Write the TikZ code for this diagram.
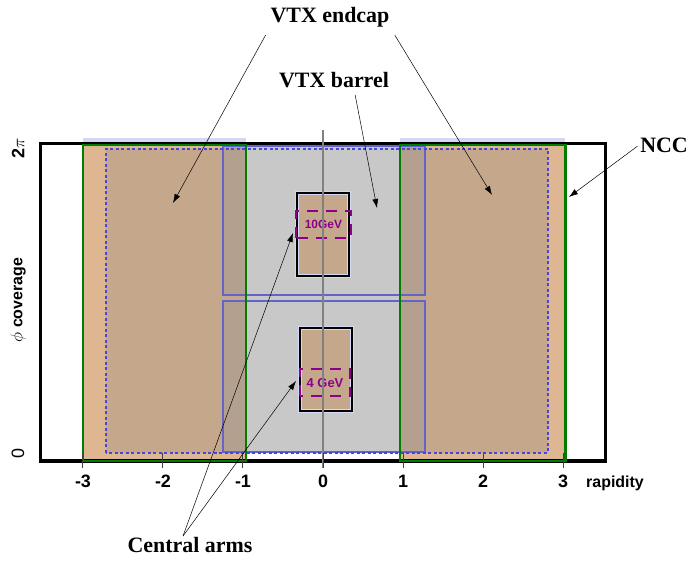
\documentclass[tikz,border=0pt]{standalone}
\usepackage{fontspec}
\setmainfont{Liberation Serif}
\setsansfont{Liberation Sans}
\usetikzlibrary{arrows.meta,positioning}
\definecolor{nccorange}{RGB}{222,182,145}
\definecolor{capbrown}{RGB}{197,168,140}
\definecolor{overlapbrown}{RGB}{180,160,143}
\definecolor{barrelgray}{RGB}{200,200,200}
\definecolor{bandblue}{RGB}{212,216,244}
\definecolor{vtxblue}{RGB}{100,100,200}
\definecolor{dashblue}{RGB}{70,70,220}
\definecolor{nccgreen}{RGB}{0,125,0}
\definecolor{trigmag}{RGB}{140,0,140}

\begin{document}
\begin{tikzpicture}[x=80bp, y=80bp, >={Latex[length=9bp,width=6bp]},
    every node/.style={font=\sffamily\bfseries\fontsize{16}{18}\selectfont, inner sep=1pt},
    bigtext/.style={font=\rmfamily\bfseries\fontsize{22}{26}\selectfont},
    trigbox/.style={trigmag, line width=2.5bp, dash pattern=on 11bp off 8bp},
    ptr/.style={->, black, line width=0.5bp}]
    \useasboundingbox (-4.0375,-1.25) rectangle (4.575,5.7625);
    \coordinate (F1) at (-3.525,0);
    \coordinate (F2) at (3.525,3.9625);
    \coordinate (E1) at (-2.71,0.10);
    \coordinate (E2) at (2.81,3.90);
    \coordinate (BL1) at (-1.25,0.11);
    \coordinate (BL2) at (1.27,2.00);
    \coordinate (BU1) at (-1.25,2.075);
    \coordinate (BU2) at (1.27,3.94);
    \coordinate (AU1) at (-0.325,2.3125);
    \coordinate (AU2) at (0.325,3.35);
    \coordinate (AL1) at (-0.29,0.625);
    \coordinate (AL2) at (0.36,1.6625);
    \foreach \a/\b in {-3.0/-0.96,0.96/3.03} \fill[bandblue] (\a,3.93) rectangle (\b,4.035);
    \foreach \a/\b in {-3.0/-0.96,0.96/3.03} \fill[nccorange] (\a,0) rectangle (\b,3.95);
    \fill[capbrown] (E1) rectangle (E2);
    \fill[overlapbrown] (BL1) rectangle (BL2);
    \fill[overlapbrown] (BU1) rectangle (BU2);
    \fill[barrelgray] (-0.96,0.10) rectangle (0.96,3.96);
    \draw[vtxblue, line width=2bp] (BL1) rectangle (BL2);
    \draw[vtxblue, line width=2bp] (BU1) rectangle (BU2);
    \draw[dashblue, line width=1.8bp, dash pattern=on 3bp off 2.5bp] (E1) rectangle (E2);
    \draw[black, line width=3bp] (F1) rectangle (F2);
    \foreach \a/\b in {-3.0/-0.96,0.96/3.03} \draw[nccgreen, line width=2.5bp] (\a,0) rectangle (\b,3.95);
    \foreach \p/\q in {AU1/AU2,AL1/AL2} {
        \fill[capbrown] (\p) rectangle (\q);
        \draw[bandblue, line width=4bp] (\p) rectangle (\q);
        \draw[black, line width=2bp] (\p) rectangle (\q);
    }
    \draw[trigbox] (-0.34,2.7875) rectangle (0.35,3.125);
    \draw[trigbox] (-0.29,0.8125) rectangle (0.34,1.15);
    \node[trigmag, font=\sffamily\bfseries\fontsize{12}{14}\selectfont] (hi) at (0.005,2.956) {10GeV};
    \node[trigmag, font=\sffamily\bfseries\fontsize{13}{15}\selectfont] (lo) at (0.025,0.98) {4 GeV};
    \coordinate (Ztop) at (0,4.1375);
    \coordinate (Zbot) at (0,-0.0875);
    \draw[gray, line width=1.2bp] (Ztop) -- (Zbot);
    \foreach \x in {-3,...,3} {
        \draw[darkgray, line width=1bp] (\x,0.1) -- (\x,-0.0875);
        \node[anchor=base, font=\sffamily\bfseries\fontsize{18}{20}\selectfont] at (\x,-0.33) {\x};
    }
    \node[anchor=base west] (rap) at (3.275,-0.325) {rapidity};
    \node[rotate=90, font=\sffamily\bfseries\fontsize{18}{20}\selectfont] (twopi) at (-3.8125,3.91) {2$\pi$};
    \node[rotate=90, font=\sffamily\fontsize{18}{20}\selectfont] (zero) at (-3.8125,0.0875) {0};
    \node[rotate=90] (phi) at (-3.8125,2.01) {$\phi$ coverage};
    \node[bigtext] (endcap) at (0.0875,5.55) {VTX endcap};
    \node[bigtext] (barrel) at (0.1375,4.7625) {VTX barrel};
    \node[bigtext] (ncc) at (4.2625,3.95) {NCC};
    \node[bigtext] (arms) at (-1.6625,-1.05) {Central arms};
    \coordinate (capLtip) at (-1.875,3.225);
    \coordinate (capRtip) at (2.1125,3.325);
    \coordinate (barreltip) at (0.675,3.1625);
    \coordinate (ncctip) at (3.075,3.30);
    \coordinate (armsUp) at (-0.375,2.85);
    \coordinate (armsLow) at (-0.3375,1.0);
    \draw[ptr, shorten <=8bp] (endcap.south west) -- (capLtip);
    \draw[ptr, shorten <=8bp] (endcap.south east) -- (capRtip);
    \draw[ptr, shorten <=6bp] ([xshift=20bp]barrel.south) -- (barreltip);
    \draw[ptr, shorten <=2bp] (ncc.west) -- (ncctip);
    \draw[ptr] ([xshift=-7bp]arms.north) -- (armsUp);
    \draw[ptr] ([xshift=-7bp]arms.north) -- (armsLow);
\end{tikzpicture}
\end{document}
